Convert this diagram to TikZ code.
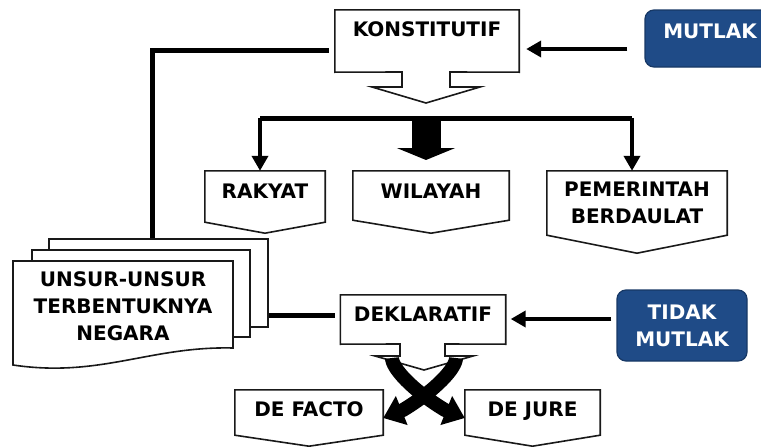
\documentclass[tikz,border=0pt]{standalone}
\usepackage{fontspec}
\setmainfont{DejaVu Sans}
\usetikzlibrary{arrows.meta}
\definecolor{tagblue}{RGB}{31,75,135}
\tikzset{
    lbl/.style = {font=\bfseries\fontsize{20}{27}\selectfont, align=center, inner sep=0pt},
    outl/.style = {draw=black!90, line width=1.6pt, line join=miter},
    page/.style = {outl, fill=white, inner sep=0pt},
    bluetag/.style = {lbl, fill=tagblue, draw=tagblue!75!black, line width=1.2pt,
                 rounded corners=9pt, text=white},
    bar/.style = {line width=5pt},
    conn/.style = {line width=4pt, -{Triangle[length=15pt,width=16pt]}},
    swoosh/.style = {line width=14pt, -{Triangle[length=20pt,width=30pt]}},
}

\begin{document}
\begin{tikzpicture}[x=1pt, y=-1pt]
\useasboundingbox (0,0) rectangle (761,447);
\clip (0,0) rectangle (761,447);
% stacked pages
\node (page3) [page, minimum width=219pt, minimum height=88pt] at (158.5,283) {};
\node (page2) [page, minimum width=218pt, minimum height=87pt] at (141,293.5) {};
\draw[page] (13,261) -- (233,261) -- (233,348) .. controls (150,346) and (100,378) .. (13,365) -- cycle;
\node (unsur) [lbl] at (123,306) {UNSUR-UNSUR\\TERBENTUKNYA\\NEGARA};
% top
\node (konst) [lbl, anchor=base, text height=26pt, text depth=36pt, minimum width=184pt] at (427,36) {KONSTITUTIF};
\draw[outl] (konst.south west) -- (konst.north west) -- (konst.north east) -- (konst.south east)
    -- (450,72) -- (450,87) -- (480,87) -- (426,103) -- (372,87) -- (402,87) -- (402,72) -- cycle;
\node (mutlak) [bluetag, anchor=base, text height=28pt, text depth=29pt, minimum width=130pt] at (710,38) {MUTLAK};
\draw[conn, shorten <=17pt, shorten >=7pt] (mutlak.west |- 0,49) to (konst.east |- 0,49);
\coordinate (kin) at (329,50);
\draw[bar] ([xshift=-6.5pt]page3.north) |- (kin);
% branches
\coordinate (bl) at (260,118);
\coordinate (bm) at (426,118);
\coordinate (br) at (632,118);
\draw[bar] (bl) -- (br);
\node (rakyat) [lbl, anchor=base, text height=27pt, text depth=24pt, minimum width=120pt] at (265,198) {RAKYAT};
\node (wilayah) [lbl, anchor=base, text height=27pt, text depth=22pt, minimum width=156pt] at (431,198) {WILAYAH};
\node (pemerintah) [lbl, minimum width=180pt, minimum height=64pt] at (637,203) {PEMERINTAH\\BERDAULAT};
\draw[outl] (rakyat.north west) -- (rakyat.north east) -- (rakyat.south east)
    -- ([yshift=-11pt]rakyat.south) -- (rakyat.south west) -- cycle;
\draw[outl] (wilayah.north west) -- (wilayah.north east) -- (wilayah.south east)
    -- ([yshift=-13pt]wilayah.south) -- (wilayah.south west) -- cycle;
\draw[outl] (pemerintah.north west) -- (pemerintah.north east) -- (pemerintah.south east)
    -- ([yshift=-18pt]pemerintah.south) -- (pemerintah.south west) -- cycle;
\draw[conn] (bl) to (bl |- rakyat.north);
\draw[conn] (br) to (br |- pemerintah.north);
\draw[line width=29pt, -{Triangle[length=12pt,width=58pt]}] (bm) to (bm |- 0,160);
% bottom
\node (dekl) [lbl, anchor=base, text height=26pt, text depth=23pt, minimum width=165pt] at (423,321) {DEKLARATIF};
\draw[outl] (dekl.south west) -- (dekl.north west) -- (dekl.north east) -- (dekl.south east)
    -- (445,344) -- (445,356) -- (473,356) -- (424,370) -- (375,356) -- (400,356) -- (400,344) -- cycle;
\node (tidak) [bluetag, minimum width=130pt, minimum height=71pt] at (682,325.5) {TIDAK\\MUTLAK};
\draw[conn, shorten <=5pt, shorten >=5pt] (tidak.west |- 0,319) to (dekl.east |- 0,319);
\coordinate (din) at (335,315);
\draw[bar] (page3.east |- din) to (din);
\node (facto) [lbl, anchor=base, text height=26pt, text depth=19pt, minimum width=148pt] at (309,416) {DE FACTO};
\node (jure) [lbl, anchor=base, text height=26pt, text depth=19pt, minimum width=135pt] at (532.5,416) {DE JURE};
\draw[outl] (facto.north west) -- (facto.north east) -- (facto.south east)
    -- ([yshift=-11pt]facto.south) -- (facto.south west) -- cycle;
\draw[outl] (jure.north west) -- (jure.north east) -- (jure.south east)
    -- ([yshift=-11pt]jure.south) -- (jure.south west) -- cycle;
\draw[swoosh] (392,358) .. controls (392,368) and (412,390) .. (445,410) -- (jure.west |- 0,418);
\draw[swoosh] (456,358) .. controls (456,368) and (436,390) .. (403,410) -- (facto.east |- 0,418);
\end{tikzpicture}
\end{document}
